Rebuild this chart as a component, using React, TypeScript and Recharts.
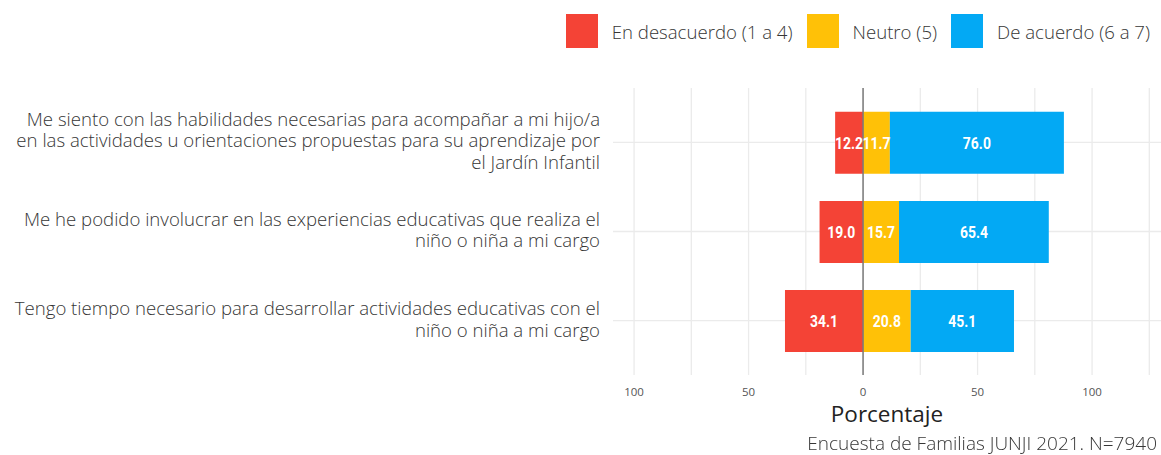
import { BarChart, Bar, XAxis, YAxis, CartesianGrid, ReferenceLine, LabelList } from "recharts";

const categories = [
  [
    "Me siento con las habilidades necesarias para acompañar a mi hijo/a",
    "en las actividades u orientaciones propuestas para su aprendizaje por",
    "el Jardín Infantil",
  ],
  [
    "Me he podido involucrar en las experiencias educativas que realiza el",
    "niño o niña a mi cargo",
  ],
  [
    "Tengo tiempo necesario para desarrollar actividades educativas con el",
    "niño o niña a mi cargo",
  ],
];

const desacuerdo = [12.2, 19.0, 34.1];
const neutro = [11.7, 15.7, 20.8];
const acuerdo = [76.0, 65.4, 45.1];

const xTicks = [-100, -75, -50, -25, 0, 25, 50, 75, 100, 125];
const labeledTicks = [-100, -50, 0, 50, 100];

const series = [
  { key: "desacuerdo", name: "En desacuerdo (1 a 4)", color: "#F44336" },
  { key: "neutro", name: "Neutro (5)", color: "#FFC107" },
  { key: "acuerdo", name: "De acuerdo (6 a 7)", color: "#03A9F4" },
];

const data = categories.map((lines, i) => ({
  name: lines.join("\n"),
  desacuerdo: -desacuerdo[i],
  neutro: neutro[i],
  acuerdo: acuerdo[i],
}));

const FONT = "'Open Sans', sans-serif";
const TEXT = "#363636";

const CategoryTick = ({ x, y, payload }: any) => {
  const lines: string[] = String(payload.value).split("\n");
  const lh = 21.7;
  const start = (-(lines.length - 1) * lh) / 2 + 5;
  return (
    <text x={x} y={y} textAnchor="end" fontFamily={FONT} fontWeight={300} fontSize={18.6} fill={TEXT}>
      {lines.map((l, i) => (
        <tspan key={i} x={x} dy={i === 0 ? start : lh}>
          {l}
        </tspan>
      ))}
    </text>
  );
};

const BarLabel = ({ x, y, width, height, value }: any) => {
  const cx = x + width / 2;
  const cy = y + height / 2;
  return (
    <text
      x={cx}
      y={cy}
      dy="0.36em"
      textAnchor="middle"
      fill="#ffffff"
      fontFamily="Roboto, sans-serif"
      fontWeight="bold"
      fontSize={17}
      transform={`translate(${cx} ${cy}) scale(0.82 1) translate(${-cx} ${-cy})`}
    >
      {Math.abs(value).toFixed(1)}
    </text>
  );
};

export default function App() {
  return (
    <div style={{ position: "fixed", left: 0, top: 0, width: 1161, height: 455, background: "#fff" }}>
      <div
        style={{
          position: "absolute",
          top: 14,
          right: 11,
          display: "flex",
          alignItems: "center",
          fontFamily: FONT,
          fontWeight: 300,
          fontSize: 18.6,
          color: TEXT,
        }}
      >
        {series.map((s) => (
          <div key={s.key} style={{ display: "flex", alignItems: "center", marginLeft: 14 }}>
            <div style={{ width: 32, height: 34, background: s.color, marginRight: 14 }} />
            <span>{s.name}</span>
          </div>
        ))}
      </div>
      <BarChart
        width={1161}
        height={455}
        data={data}
        layout="vertical"
        stackOffset="sign"
        margin={{ top: 88, right: 0, left: 0, bottom: 0 }}
      >
        <CartesianGrid stroke="#ebebeb" strokeWidth={1.3} syncWithTicks />
        <XAxis
          type="number"
          domain={[-109.2, 130.1]}
          ticks={xTicks}
          allowDataOverflow
          axisLine={false}
          tickLine={false}
          tickSize={0}
          tickMargin={13}
          height={80}
          interval={0}
          tick={{ fontSize: 11.5, fill: "#555555", fontFamily: FONT }}
          tickFormatter={(v: number) => (labeledTicks.includes(v) ? String(Math.abs(v)) : "")}
          label={{
            value: "Porcentaje",
            position: "insideBottom",
            offset: 33,
            fontSize: 22.5,
            fill: "#222222",
            fontFamily: FONT,
          }}
        />
        <YAxis
          type="category"
          dataKey="name"
          width={613}
          axisLine={false}
          tickLine={false}
          tickSize={0}
          tickMargin={13}
          padding={{ top: 9.7, bottom: 9.7 }}
          tick={<CategoryTick />}
        />
        {series.map((s) => (
          <Bar key={s.key} dataKey={s.key} stackId="a" fill={s.color} barSize={62} isAnimationActive={false}>
            <LabelList dataKey={s.key} content={<BarLabel />} />
          </Bar>
        ))}
        <ReferenceLine x={0} stroke="#7a7a7a" strokeWidth={1.5} />
      </BarChart>
      <div
        style={{
          position: "absolute",
          right: 4,
          top: 432.5,
          fontFamily: FONT,
          fontWeight: 300,
          fontSize: 19,
          lineHeight: "20px",
          color: TEXT,
          whiteSpace: "nowrap",
        }}
      >
        Encuesta de Familias JUNJI 2021. N=7940
      </div>
    </div>
  );
}
